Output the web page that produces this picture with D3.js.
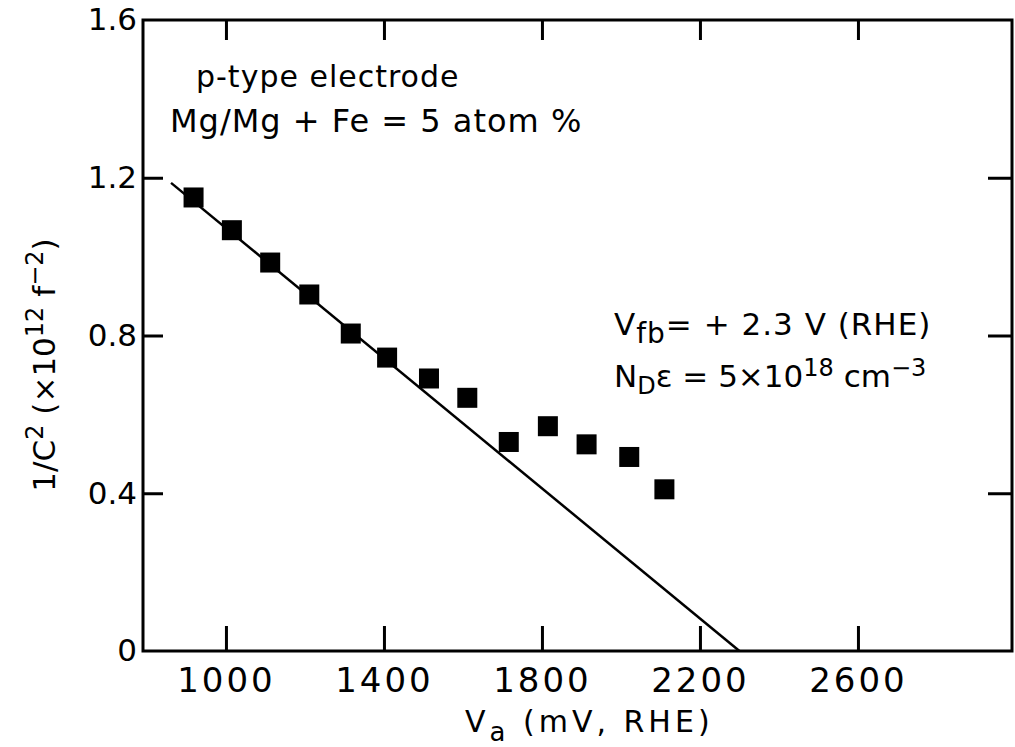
<!DOCTYPE html>
<html>
<head>
<meta charset="utf-8">
<script src="https://cdn.jsdelivr.net/npm/d3@7"></script>
<style>
  html, body { margin: 0; padding: 0; background: #fff; }
  svg { display: block; }
  text { font-family: "DejaVu Sans", sans-serif; fill: #000; }
</style>
</head>
<body>
<svg id="chart" width="1015" height="747"></svg>
<script>
// ---- data ----
const voltage = [918, 1015, 1112, 1211, 1316, 1408, 1514, 1611, 1716, 1815, 1913, 2021, 2110]; // mV, RHE
const invC2   = [1.150, 1.067, 0.985, 0.904, 0.805, 0.744, 0.691, 0.642, 0.530, 0.570, 0.524, 0.492, 0.410];
const fitVoltage = [861, 2300];
const fitInvC2   = [1.187, 0];
const xTickValues = [1000, 1400, 1800, 2200, 2600];
const yTickValues = [0, 0.4, 0.8, 1.2, 1.6];
const yTickLabels = ["0", "0.4", "0.8", "1.2", "1.6"];
const xDomain = [790, 2990];
const yDomain = [0, 1.6];

(function () {
// ---- layout ----
const mLeft = 143, mRight = 1012, mTop = 20, mBottom = 651;
const svg = d3.select("#chart");
const x = d3.scaleLinear().domain(xDomain).range([mLeft, mRight]);
const y = d3.scaleLinear().domain(yDomain).range([mBottom, mTop]);

// frame
svg.append("rect")
  .attr("x", mLeft).attr("y", mTop)
  .attr("width", mRight - mLeft).attr("height", mBottom - mTop)
  .attr("fill", "none").attr("stroke", "#000").attr("stroke-width", 3);

function styleAxis(g, fontSize) {
  g.select(".domain").remove();
  g.selectAll(".tick line").attr("stroke", "#000").attr("stroke-width", 3);
  g.selectAll(".tick text").attr("font-size", fontSize).attr("fill", "#000")
    .attr("font-family", "DejaVu Sans, sans-serif");
}

// bottom axis
svg.append("g").attr("transform", `translate(0,${mBottom})`)
  .call(d3.axisBottom(x).tickValues(xTickValues).tickFormat(d3.format("d"))
    .tickSize(-25).tickPadding(17))
  .call(g => styleAxis(g, 34))
  .call(g => g.selectAll(".tick text").attr("letter-spacing", "3px"));

// top axis
svg.append("g").attr("transform", `translate(0,${mTop})`)
  .call(d3.axisTop(x).tickValues(xTickValues).tickFormat("").tickSize(-20))
  .call(g => styleAxis(g, 0));

// left axis
svg.append("g").attr("transform", `translate(${mLeft},0)`)
  .call(d3.axisLeft(y).tickValues(yTickValues)
    .tickFormat((d, i) => yTickLabels[i]).tickSize(-20).tickPadding(6))
  .call(g => styleAxis(g, 31))
  .call(g => g.selectAll(".tick").filter(d => d === 0 || d === 1.6).select("line").remove());

// right axis
svg.append("g").attr("transform", `translate(${mRight},0)`)
  .call(d3.axisRight(y).tickValues(yTickValues.filter(d => d > 0 && d < 1.6))
    .tickFormat("").tickSize(-24))
  .call(g => styleAxis(g, 0));

// fit line
const fit = fitVoltage.map((v, i) => [v, fitInvC2[i]]);
svg.append("path")
  .datum(fit)
  .attr("d", d3.line().x(d => x(d[0])).y(d => y(d[1])))
  .attr("fill", "none").attr("stroke", "#000").attr("stroke-width", 2.5);

// data squares
const sq = 20;
svg.append("g").selectAll("rect")
  .data(voltage.map((v, i) => [v, invC2[i]]))
  .join("rect")
  .attr("x", d => x(d[0]) - sq / 2)
  .attr("y", d => y(d[1]) - sq / 2)
  .attr("width", sq).attr("height", sq)
  .attr("fill", "#000");

// annotations
svg.append("text").attr("x", 196).attr("y", 87).attr("font-size", 30)
  .attr("letter-spacing", "1px").text("p-type electrode");
svg.append("text").attr("x", 170).attr("y", 132).attr("font-size", 32)
  .attr("letter-spacing", "1px").text("Mg/Mg + Fe = 5 atom %");

const t1 = svg.append("text").attr("x", 614).attr("y", 335).attr("font-size", 31)
  .attr("letter-spacing", "1px");
t1.append("tspan").text("V");
t1.append("tspan").attr("dy", 8).attr("font-size", 28).text("fb");
t1.append("tspan").attr("dy", -8).text("= + 2.3 V (RHE)");

const t2 = svg.append("text").attr("x", 614).attr("y", 387).attr("font-size", 31);
t2.append("tspan").text("N");
t2.append("tspan").attr("dy", 7).attr("font-size", 24).text("D");
t2.append("tspan").attr("dy", -7).text("ε = 5×10");
t2.append("tspan").attr("dy", -11).attr("font-size", 24).text("18");
t2.append("tspan").attr("dy", 11).text(" cm");
t2.append("tspan").attr("dy", -11).attr("font-size", 24).text("−3");

// x axis title
const xt = svg.append("text").attr("x", 465).attr("y", 732).attr("font-size", 30)
  .attr("letter-spacing", "4px");
xt.append("tspan").text("V");
xt.append("tspan").attr("dy", 9).attr("font-size", 26).text("a");
xt.append("tspan").attr("dy", -9).text(" (mV, RHE)");

// y axis title
const yt = svg.append("text")
  .attr("transform", "translate(55,365) rotate(-90)")
  .attr("text-anchor", "middle").attr("font-size", 31);
yt.append("tspan").text("1/C");
yt.append("tspan").attr("dy", -12).attr("font-size", 24).text("2");
yt.append("tspan").attr("dy", 12).text(" (×10");
yt.append("tspan").attr("dy", -12).attr("font-size", 24).text("12");
yt.append("tspan").attr("dy", 12).text(" f");
yt.append("tspan").attr("dy", -12).attr("font-size", 24).text("−2");
yt.append("tspan").attr("dy", 12).text(")");
})();
</script>
</body>
</html>
